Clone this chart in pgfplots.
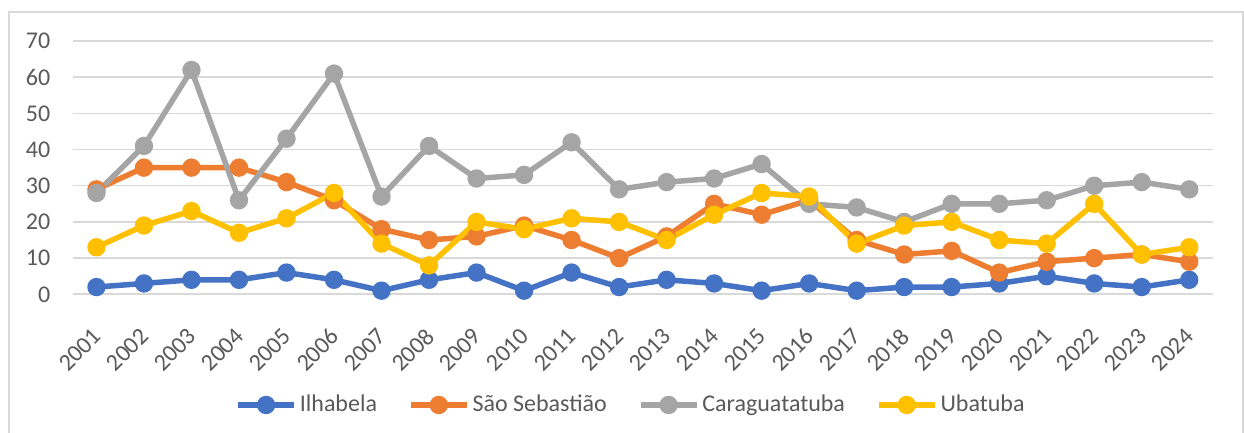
\documentclass[border=0pt]{standalone}
\usepackage{fontspec}
\setmainfont{Carlito}
\usepackage{pgfplots}
\pgfplotsset{compat=1.18}
\definecolor{cIl}{HTML}{4472C4}
\definecolor{cSS}{HTML}{ED7D31}
\definecolor{cCa}{HTML}{A5A5A5}
\definecolor{cUb}{HTML}{FFC000}
\definecolor{gridc}{HTML}{D9D9D9}
\definecolor{txt}{HTML}{595959}
\begin{document}
\begin{tikzpicture}
\useasboundingbox (0,0) rectangle (622pt,216.5pt);
\draw[gridc, line width=0.75pt] (4.5pt,0pt) -- (4.5pt,210.5pt) -- (621.5pt,210.5pt) -- (621.5pt,0pt);
\begin{axis}[
  at={(36.35pt,69.35pt)}, anchor=south west,
  scale only axis, width=570.15pt, height=126.65pt,
  xmin=2000.5, xmax=2024.5, ymin=0, ymax=70,
  xtick={2001,...,2024}, ytick={0,10,...,70},
  /pgf/number format/assume math mode=true,
  /pgf/number format/1000 sep={},
  axis line style={draw=none},
  major tick length=0pt,
  ymajorgrids, grid style={gridc, line width=0.75pt},
  extra y ticks={0}, extra y tick labels={},
  extra y tick style={grid style={gridc, line width=1pt}},
  tick label style={font=\fontsize{12}{14}\selectfont, text=txt},
  yticklabel style={anchor=east, inner sep=0pt, xshift=-11pt},
  xticklabel style={xshift=-2.5pt, yshift=-16pt, rotate=45, anchor=north east, inner sep=0pt},
  legend columns=4,
  legend style={at={(0.490,-0.437)}, anchor=center, draw=none, fill=none,
    font=\fontsize{12}{14}\selectfont, text=txt,
    /tikz/every even column/.append style={column sep=14pt},
    nodes={inner sep=1.5pt}},
  legend image code/.code={\draw[mark repeat=2,mark phase=2,#1] plot coordinates {(0pt,0pt) (14pt,0pt) (28pt,0pt)};},
  every axis plot/.append style={line width=2.75pt, mark=*, mark size=3.2pt, mark options={solid}},
]
\addplot[cIl, mark options={fill=cIl, draw=cIl}] coordinates {
(2001,2)(2002,3)(2003,4)(2004,4)(2005,6)(2006,4)(2007,1)(2008,4)(2009,6)(2010,1)(2011,6)(2012,2)
(2013,4)(2014,3)(2015,1)(2016,3)(2017,1)(2018,2)(2019,2)(2020,3)(2021,5)(2022,3)(2023,2)(2024,4)};
\addlegendentry{Ilhabela}
\addplot[cSS, mark options={fill=cSS, draw=cSS}] coordinates {
(2001,29)(2002,35)(2003,35)(2004,35)(2005,31)(2006,26)(2007,18)(2008,15)(2009,16)(2010,19)(2011,15)(2012,10)
(2013,16)(2014,25)(2015,22)(2016,26)(2017,15)(2018,11)(2019,12)(2020,6)(2021,9)(2022,10)(2023,11)(2024,9)};
\addlegendentry{São Sebastião}
\addplot[cCa, mark options={fill=cCa, draw=cCa}] coordinates {
(2001,28)(2002,41)(2003,62)(2004,26)(2005,43)(2006,61)(2007,27)(2008,41)(2009,32)(2010,33)(2011,42)(2012,29)
(2013,31)(2014,32)(2015,36)(2016,25)(2017,24)(2018,20)(2019,25)(2020,25)(2021,26)(2022,30)(2023,31)(2024,29)};
\addlegendentry{Caraguatatuba}
\addplot[cUb, mark options={fill=cUb, draw=cUb}] coordinates {
(2001,13)(2002,19)(2003,23)(2004,17)(2005,21)(2006,28)(2007,14)(2008,8)(2009,20)(2010,18)(2011,21)(2012,20)
(2013,15)(2014,22)(2015,28)(2016,27)(2017,14)(2018,19)(2019,20)(2020,15)(2021,14)(2022,25)(2023,11)(2024,13)};
\addlegendentry{Ubatuba}
\end{axis}
\end{tikzpicture}
\end{document}
